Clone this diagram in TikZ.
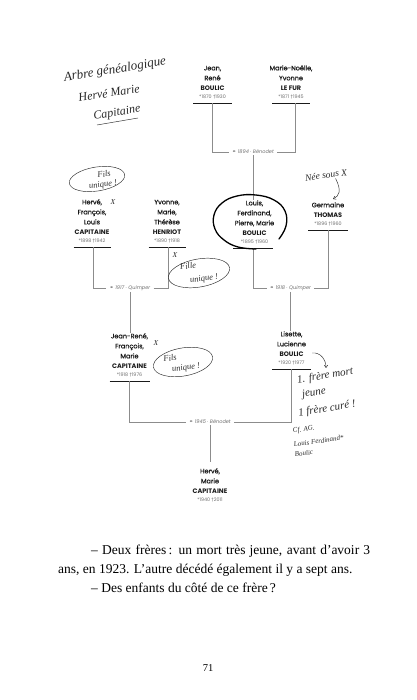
\documentclass[tikz,border=0pt]{standalone}
\usepackage{fontspec}
\setmainfont{Liberation Serif}
\newfontfamily\pop{Poppins}
\newfontfamily\popm[FakeBold=0.6]{Poppins}
\newfontfamily\djv{DejaVu Sans}
\usetikzlibrary{arrows.meta}
\definecolor{ink}{HTML}{1A1A1A}
\definecolor{conncol}{HTML}{8C8C8C}
\definecolor{dategray}{HTML}{707070}
\definecolor{pen}{HTML}{2A2A2A}
\newcommand{\lifespan}[2]{{\pop\fontsize{4.8}{6}\selectfont\color{dategray}*#1\ {\djv †}#2}}
\newcommand{\famname}[1]{{\pop\bfseries #1}}
\newcommand{\hf}[1]{\rmfamily\itshape\fontsize{#1}{#1}\selectfont}
\newcommand{\wed}[2]{{\djv ⚭}\ #1 · #2}
\begin{document}
\begin{tikzpicture}[x=1pt,y=-1pt,
  person/.style={anchor=south, align=center, inner sep=0pt, font=\popm\fontsize{6.5}{10}\selectfont, text=ink},
  mlabel/.style={inner xsep=3pt, inner ysep=1pt, font=\pop\itshape\fontsize{5}{6}\selectfont, text=dategray},
  conn/.style={draw=conncol, line width=0.55pt},
  uline/.style={draw=ink, line width=0.8pt},
  hand/.style={inner sep=0pt, text=pen},
  handline/.style={draw=pen, line width=0.45pt},
  loopline/.style={draw=black, line width=1.3pt, line cap=round},
  body/.style={anchor=base west, inner sep=0pt, font=\rmfamily\fontsize{13.5}{16}\selectfont, text=black}
]
\useasboundingbox (0,0) rectangle (416,700);
\fill[white] (0,0) rectangle (416,700);

% ---- generation 0
\node[person] (jean) at (212.5,99) {Jean,\\René\\\famname{BOULIC}\\[-2pt]\lifespan{1870}{1930}};
\node[person] (marie) at (291,99) {Marie-Noëlle,\\Yvonne\\\famname{LE FUR}\\[-2pt]\lifespan{1871}{1945}};
\draw[uline] (jean.south) ++(-19.5,4) -- ++(39,0);
\draw[uline] (marie.south) ++(-19,4) -- ++(38,0);
\coordinate (jeanD) at (212.5,103);
\coordinate (marieD) at (295.5,103);
\node[mlabel] (m1894) at (253,152) {\wed{1894}{Bénodet}};
\draw[conn] (jeanD) |- (m1894.west);
\draw[conn] (m1894.east) -| (marieD);

% ---- generation 1
\node[person] (herveA) at (92,243) {Hervé,\\François,\\Louis\\\famname{CAPITAINE}\\[-2pt]\lifespan{1898}{1942}};
\node[person] (yvonne) at (167,243) {Yvonne,\\Marie,\\Thérèse\\\famname{HENRIOT}\\[-2pt]\lifespan{1890}{1918}};
\node[person] (louis) at (254.5,244) {Louis,\\Ferdinand,\\Pierre, Marie\\\famname{BOULIC}\\[-2pt]\lifespan{1895}{1960}};
\node[person] (germaine) at (328,226) {Germaine\\\famname{THOMAS}\\[-2pt]\lifespan{1896}{1960}};
\draw[uline] (herveA.south) ++(-18.5,4) -- ++(37,0);
\draw[uline] (yvonne.south) ++(-18.5,4) -- ++(37,0);
\draw[uline] (louis.south) ++(-21.5,4) -- ++(40,0);
\draw[uline] (germaine.south) ++(-20,4) -- ++(40,0);
\draw[conn] (m1894.south) -- (m1894.south |- louis.north);
\coordinate (herveAD) at (93,247);
\coordinate (yvonneD) at (168,247);
\coordinate (louisD) at (253,248);
\coordinate (germaineD) at (328,230);
\node[mlabel] (m1917) at (130,288) {\wed{1917}{Quimper}};
\node[mlabel] (m1918) at (290.5,288) {\wed{1918}{Quimper}};
\draw[conn] (herveAD) |- (m1917.west);
\draw[conn] (m1917.east) -| (yvonneD);
\draw[conn] (louisD) |- (m1918.west);
\draw[conn] (m1918.east) -| (germaineD);

% ---- generation 2
\node[person] (jeanrene) at (129.5,377) {Jean-René,\\François,\\Marie\\\famname{CAPITAINE}\\[-2pt]\lifespan{1918}{1976}};
\node[person] (lisette) at (291.5,365) {Lisette,\\Lucienne\\\famname{BOULIC}\\[-2pt]\lifespan{1920}{1977}};
\draw[uline] (jeanrene.south) ++(-20,4) -- ++(40,0);
\draw[uline] (lisette.south) ++(-19.5,4) -- ++(39,0);
\draw[conn] (m1917.south) -- (m1917.south |- jeanrene.north);
\draw[conn] (m1918.south) -- (m1918.south |- lisette.north);
\coordinate (jeanreneD) at (129.5,381);
\coordinate (lisetteD) at (291.5,369);
\node[mlabel] (m1945) at (210,422) {\wed{1945}{Bénodet}};
\draw[conn] (jeanreneD) |- (m1945.west);
\draw[conn] (m1945.east) -| (lisetteD);

% ---- generation 3
\node[person] (herveB) at (210,502) {Hervé,\\Marie\\\famname{CAPITAINE}\\[-2pt]\lifespan{1940}{2011}};
\draw[conn, shorten >=6pt] (m1945.south) -- (m1945.south |- herveB.north);

% ---- handwritten notes
\node[hand, font=\hf{13}, rotate=9] (title1) at (115,70) {Arbre généalogique};
\node[hand, font=\hf{12}, rotate=9] (title2) at (109,93) {Hervé Marie};
\node[hand, font=\hf{12}, rotate=9] (title3) at (117,113) {Capitaine};
\draw[handline] (97,125) -- (138,118);

\draw[loopline] plot[smooth, tension=0.7] coordinates {(279,239) (286,226) (285,211) (274,200) (256,195) (237,196) (222,203) (214,215) (215,229) (224,240) (238,247) (256,249)};

\draw[handline, rotate around={9:(97,179)}] (97,179) ellipse [x radius=28pt, y radius=12pt];
\node[hand, font=\hf{8.5}, rotate=8] (fils1a) at (104,174) {Fils};
\node[hand, font=\hf{8.5}, rotate=8] (fils1b) at (103,185) {unique !};
\node[hand, font=\hf{7.5}] (x1) at (113,202) {X};

\draw[handline, rotate around={10:(199,273)}] (199,273) ellipse [x radius=31pt, y radius=14pt];
\node[hand, font=\hf{8.5}, rotate=8] (fille1) at (188,266) {Fille};
\node[hand, font=\hf{8.5}, rotate=8] (fille2) at (204,279) {unique !};
\node[hand, font=\hf{7.5}] (x2) at (175,255) {X};

\draw[handline, rotate around={10:(183,362)}] (183,362) ellipse [x radius=30pt, y radius=14pt];
\node[hand, font=\hf{8.5}, rotate=8] (fils3a) at (170,358) {Fils};
\node[hand, font=\hf{8.5}, rotate=8] (fils3b) at (186,368) {unique !};
\node[hand, font=\hf{7.5}] (x3) at (156,343) {X};

\node[hand, font=\hf{9.5}, rotate=8] (nee) at (326,175) {Née sous X};
\coordinate (neeTip) at (333,199);
\draw[handline, -{Straight Barb[length=2.5pt,width=3.5pt]}] (nee.south east) ++(-12,3) .. controls (342,191) and (339,196) .. (neeTip);

\coordinate (lisTail) at (312,353);
\coordinate (lisTip) at (326,368);
\draw[handline, -{Straight Barb[length=2.5pt,width=3.5pt]}] (lisTail) .. controls (320,352) and (326,359) .. (lisTip);
\node[hand, font=\hf{11}, rotate=9] (n1) at (325,376) {1. frère mort};
\node[hand, font=\hf{11}, rotate=9] (n2) at (314,393) {jeune};
\node[hand, font=\hf{11}, rotate=9] (n3) at (327,409) {1 frère curé !};
\node[hand, font=\hf{7}, rotate=8, anchor=base west] (n4) at (293,433) {Cf. AG.};
\node[hand, font=\hf{7}, rotate=8, anchor=base west] (n5) at (294,447) {Louis Ferdinand*};
\node[hand, font=\hf{7}, rotate=8, anchor=base west] (n6) at (295,457) {Boulic};

% ---- book text
\node[body] (line1) at (91,554) {\makebox[279pt][s]{– Deux frères\,: un mort très jeune, avant d’avoir 3}};
\node[body] (line2) at (58,573) {ans, en 1923. L’autre décédé également il y a sept ans.};
\node[body] (line3) at (91,592) {– Des enfants du côté de ce frère\,?};
\node[inner sep=0pt, font=\rmfamily\fontsize{10.5}{12}\selectfont] (pagenum) at (208,668) {71};
\end{tikzpicture}
\end{document}
